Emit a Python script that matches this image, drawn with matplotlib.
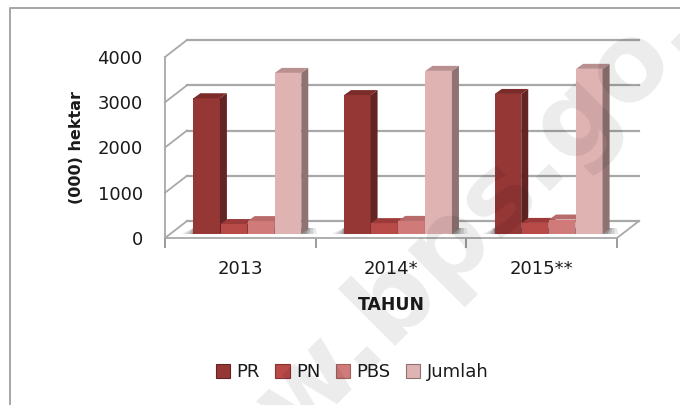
import numpy as np
import matplotlib
matplotlib.use("Agg")
import matplotlib.pyplot as plt
from matplotlib.lines import Line2D
from matplotlib.patches import Polygon, Patch

# data
years = ["2013", "2014*", "2015**"]
series = ["PR", "PN", "PBS", "Jumlah"]
pr = [3000, 3070, 3095]
pn = [220, 240, 245]
pbs = [285, 290, 320]
jumlah = [3560, 3605, 3650]
y_ticks = [0, 1000, 2000, 3000, 4000]

face = ["#953735", "#b84a48", "#d07b7a", "#e0b3b3"]
side = ["#632523", "#8a3231", "#a35f5e", "#8f7272"]
top = ["#7b2b2a", "#9c3a39", "#b86b6a", "#b98f8f"]

W, H = 680, 405
LEFT, RIGHT, TOP, BOTTOM = 165, 617, 57, 238   # front plane in pixels
DX, DY = 22, 17                                # depth of the box
BAR_DX, BAR_DY = 7, 4                          # bars stand a bit behind the front
SIDE_DX, SIDE_DY = 7, 5
GRID = "#a8a8a8"

plt.rcParams['font.family'] = ['DejaVu Sans']
plt.rcParams['font.size'] = 13
fig = plt.figure(figsize=(W / 100, H / 100), dpi=100)


def pixel_axes(l, r, t, b):
    a = fig.add_axes([l / W, 1 - b / H, (r - l) / W, (b - t) / H])
    a.set_xlim(0, 3)
    a.set_ylim(0, 4000)
    a.patch.set_alpha(0)
    return a


# ================= box, grid and labels =================
ax = pixel_axes(LEFT, RIGHT, TOP, BOTTOM)
for s in ["top", "right"]:
    ax.spines[s].set_visible(False)
for s in ["left", "bottom"]:
    ax.spines[s].set_color(GRID)
    ax.spines[s].set_linewidth(1.3)

xu = 3 / (RIGHT - LEFT)     # data units per pixel
yu = 4000 / (BOTTOM - TOP)

for v in y_ticks:
    ax.plot([0, DX * xu], [v, v + DY * yu], color=GRID, lw=1.3, clip_on=False)
    ax.plot([DX * xu, 3 + DX * xu], [v + DY * yu, v + DY * yu], color=GRID, lw=1.6, clip_on=False)
ax.plot([3, 3 + DX * xu], [0, DY * yu], color=GRID, lw=1.3, clip_on=False)

ax.set_yticks(y_ticks)
ax.tick_params(axis="y", length=0, pad=16, labelcolor="#1a1a1a")
ax.set_xticks([0.5, 1.5, 2.5])
ax.set_xticklabels(years)
ax.set_xticks([0, 1, 2, 3], minor=True)
ax.tick_params(axis="x", which="major", length=0, pad=16, labelcolor="#1a1a1a")
ax.tick_params(axis="x", which="minor", length=7, width=1.2, color="#8a8a8a")
ax.set_xlabel("TAHUN", fontsize=12.4, fontweight="bold", labelpad=13, color="#1a1a1a")
ax.set_ylabel("(000) hektar", fontsize=11.5, fontweight="bold", labelpad=10, color="#1a1a1a")

# ================= bars =================
bx = pixel_axes(LEFT + BAR_DX, RIGHT + BAR_DX, TOP - BAR_DY, BOTTOM - BAR_DY)
bx.axis("off")
values = [pr, pn, pbs, jumlah]
bar_w = 0.18
sdx, sdy = SIDE_DX * xu, SIDE_DY * yu

# soft shadow on the floor, darker close to the bars
for g in range(len(years)):
    x0 = g + 0.5 - 2 * bar_w
    x1 = g + 0.5 + 2 * bar_w
    for grow, alpha in [(12, 0.12), (8, 0.18), (4, 0.25), (1, 0.3)]:
        bx.add_patch(Polygon([(x0 - grow * xu, 0), (x1 + sdx * 0.5 + grow * xu, 0),
                              (x1 + sdx + grow * xu * 0.6, sdy * 1.2), (x0, sdy * 1.2)],
                             closed=True, fc="#555555", ec="none", alpha=alpha, clip_on=False))

for g in range(len(years)):
    for i, vals in enumerate(values):
        x0 = g + 0.5 + (i - 2) * bar_w + 0.002
        x1 = x0 + bar_w - 0.004
        v = vals[g]
        bx.bar(x0, v, width=x1 - x0, align="edge", color=face[i], edgecolor="none", zorder=3 + i)
        bx.add_patch(Polygon([(x1, 0), (x1 + sdx, sdy), (x1 + sdx, v + sdy), (x1, v)],
                             closed=True, fc=side[i], ec="none", zorder=3 + i, clip_on=False))
        bx.add_patch(Polygon([(x0, v), (x1, v), (x1 + sdx, v + sdy), (x0 + sdx, v + sdy)],
                             closed=True, fc=top[i], ec="none", zorder=3 + i, clip_on=False))

# ================= legend =================
handles = [Patch(facecolor=face[i], edgecolor=side[i], linewidth=0.8) for i in range(4)]
fig.legend(handles, series, loc="center", bbox_to_anchor=(352 / W, 1 - 372 / H), ncol=4,
           frameon=False, fontsize=13, handlelength=0.8, handleheight=0.8,
           handletextpad=0.35, columnspacing=0.85, labelcolor="#1a1a1a")

# ================= outer frame and watermark =================
fig.add_artist(Line2D([10 / W, 10 / W, 1], [0, 1 - 8 / H, 1 - 8 / H], color="#a6a6a6", lw=1.4))
# baseline runs through the two dots of the watermark
fig.text(155 / W, 1 - 583 / H, "www.bps.go.id", fontsize=77, fontweight="bold", color="black",
         alpha=0.08, rotation=45, ha="left", va="baseline", zorder=10, rotation_mode="anchor")

fig.savefig("out.png", dpi=100)
